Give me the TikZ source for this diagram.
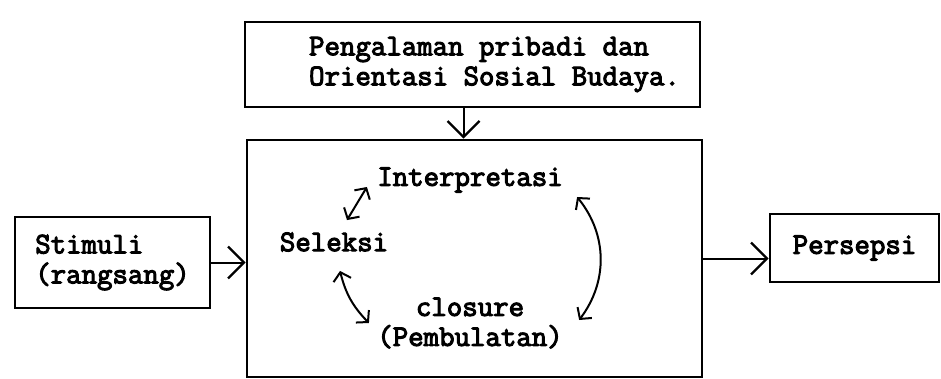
\documentclass[tikz,border=0pt]{standalone}
\usepackage{fontspec}
\newfontfamily\typefont{Latin Modern Mono}[FakeBold=3.5]
\usetikzlibrary{arrows.meta,calc,positioning}

\begin{document}
\begin{tikzpicture}[x=0.5pt,y=-0.5pt,
  box/.style={draw,line width=1.3pt,inner sep=0pt},
  txt/.style={font=\typefont\fontsize{15}{15}\selectfont,inner sep=2pt},
  big/.style={line width=1pt,-{Straight Barb[length=8pt,width=16pt,line width=1.2pt]}},
  dbl/.style={line width=1pt,{Straight Barb[length=4pt,width=9pt]}-{Straight Barb[length=4pt,width=9pt]}}]
\useasboundingbox (0,0) rectangle (941,379);
\node[box,txt,minimum width=227.5pt,minimum height=42.5pt,align=left] (exp) at (472.5,64.5)
  {\hspace*{22pt}Pengalaman pribadi dan\\\hspace*{22pt}Orientasi Sosial Budaya.};
\node[box,minimum width=227.5pt,minimum height=118.5pt] (main) at (474.5,258.5) {};
\node[box,txt,minimum width=97.5pt,minimum height=45.5pt,align=left] (stim) at (112.5,262.5) {Stimuli\\(rangsang)};
\node[box,txt,minimum width=84.5pt,minimum height=34pt] (pers) at (854.5,248) {Persepsi};
\node[txt] (inter) at (470,180) {Interpretasi};
\node[txt] (sel) at (334,242) {Seleksi};
\node[txt,align=center] (clos) at (470,323) {closure\\(Pembulatan)};
\draw[big] ([xshift=-4.5pt]exp.south) -- ([xshift=-4.5pt]exp.south |- main.north);
\draw[big] (stim.east) -- (stim.east -| main.west);
\draw[big] (main.east) -- (main.east -| pers.west);
\draw[dbl] ([shift={(13,-8)}]sel.north) -- ([shift={(-6,7)}]inter.west);
\draw[dbl] ([shift={(6,15)}]sel.south) to[bend right=15] ([shift={(-4,0)}]clos.west);
\draw[dbl] ([shift={(10,17)}]inter.east) to[bend left=38] ([shift={(12,-3)}]clos.east);
\end{tikzpicture}
\end{document}
